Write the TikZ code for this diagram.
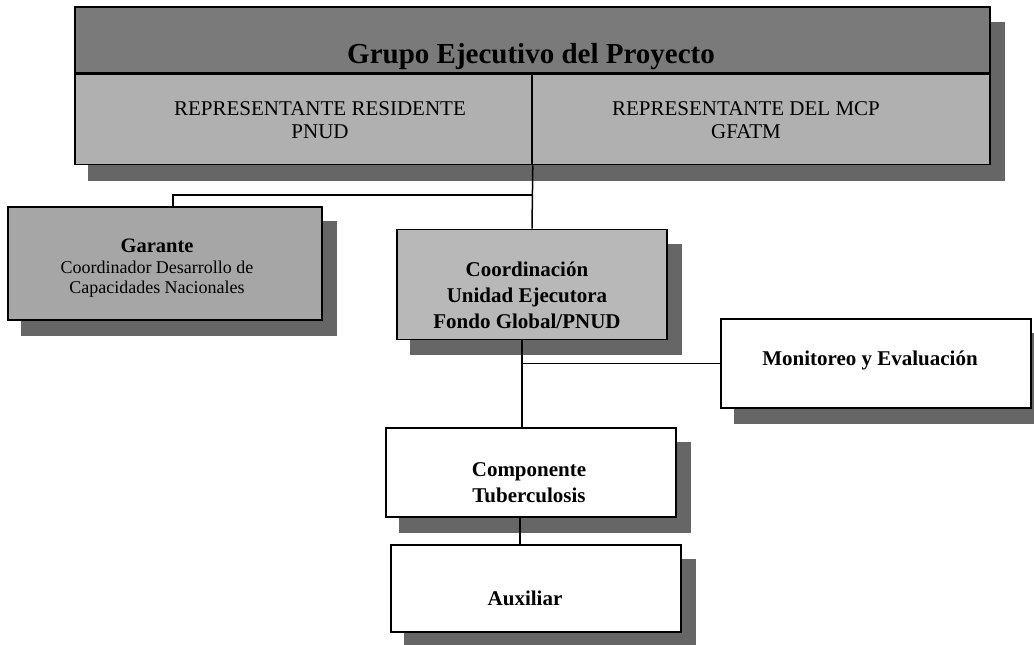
\documentclass[tikz,border=0pt]{standalone}
\usepackage{fontspec}
\setmainfont{Liberation Serif}
\usetikzlibrary{backgrounds}
\definecolor{titlegray}{gray}{0.48}
\definecolor{rowgray}{gray}{0.69}
\definecolor{shadowgray}{gray}{0.40}
\definecolor{gargray}{gray}{0.65}
\definecolor{coordgray}{gray}{0.72}
\begin{document}
\begin{tikzpicture}[x=1pt,y=-1pt,
  box/.style={draw=black, line width=1.6pt, rectangle, inner sep=0pt},
  conn/.style={draw=black, line width=1.5pt},
  txt/.style={inner sep=0pt, align=center, text=black},
  bodybold/.style={font=\bfseries\fontsize{21}{26}\selectfont},
  shadowfill/.style={fill=shadowgray, draw=none}]
\useasboundingbox (0,0) rectangle (1034,645);

% top block
\node[box, fill=titlegray, minimum width=915pt, minimum height=66pt] (title) at (532.5,40) {};
\node[box, fill=rowgray, anchor=north west, minimum width=457pt, minimum height=90pt] (rr) at (title.south west) {};
\node[box, fill=rowgray, anchor=north east, minimum width=458pt, minimum height=90pt] (mcp) at (title.south east) {};

\node[txt, anchor=base, font=\bfseries\fontsize{29}{34}\selectfont] (titletext) at (531,63) {Grupo Ejecutivo del Proyecto};
\node[txt, anchor=north, font=\fontsize{21}{23}\selectfont] (rrtext) at (320,101) {REPRESENTANTE RESIDENTE\\PNUD};
\node[txt, anchor=north, font=\fontsize{21}{23}\selectfont] (mcptext) at (746,101) {REPRESENTANTE DEL MCP\\GFATM};

% boxes
\node[box, fill=gargray, minimum width=314pt, minimum height=113pt] (gar) at (165,263.5) {};
\node[box, fill=coordgray, minimum width=270pt, minimum height=110pt] (coord) at (532,284.5) {};
\node[box, fill=white, minimum width=310pt, minimum height=89pt] (mon) at (876,363.5) {};
\node[box, fill=white, minimum width=290pt, minimum height=89pt] (comp) at (531,472.5) {};
\node[box, fill=white, minimum width=290pt, minimum height=87pt] (aux) at (536,588.5) {};

% texts
\node[txt, anchor=north, font=\fontsize{18}{20}\selectfont] (gartext) at (157,239)
  {{\bfseries\fontsize{20.5}{22}\selectfont Garante}\\[1pt]Coordinador Desarrollo de\\Capacidades Nacionales};
\node[txt, anchor=north, bodybold] (coordtext) at (527,262) {Coordinación\\Unidad Ejecutora\\Fondo Global/PNUD};
\node[txt, anchor=base, bodybold] (montext) at (870,365) {Monitoreo y Evaluación};
\node[txt, anchor=north, bodybold] (comptext) at (529,462) {Componente\\Tuberculosis};
\node[txt, anchor=base, bodybold] (auxtext) at (525,605) {Auxiliar};

% shadows
\begin{pgfonlayer}{background}
  \fill[shadowfill] ([shift={(14,16)}]title.north west) rectangle ([shift={(14,16)}]mcp.south east);
  \foreach \n in {gar,coord,mon,comp,aux}
    \fill[shadowfill] ([shift={(14,15)}]\n.north west) rectangle ([shift={(14,15)}]\n.south east);
\end{pgfonlayer}

% connectors
\coordinate (j1) at (rr.south east |- 0,195);
\draw[conn] (rr.south east) -- (coord.north);
\draw[conn] (j1) -| ([xshift=8pt]gar.north);
\draw[conn] ([xshift=-10pt]coord.south) -- ([xshift=-10pt]coord.south |- comp.north);
\draw[conn] ([xshift=-10pt]coord.south |- mon.west) -- (mon.west);
\draw[conn] ([xshift=-11pt]comp.south) -- ([xshift=-11pt]comp.south |- aux.north);
\end{tikzpicture}
\end{document}
